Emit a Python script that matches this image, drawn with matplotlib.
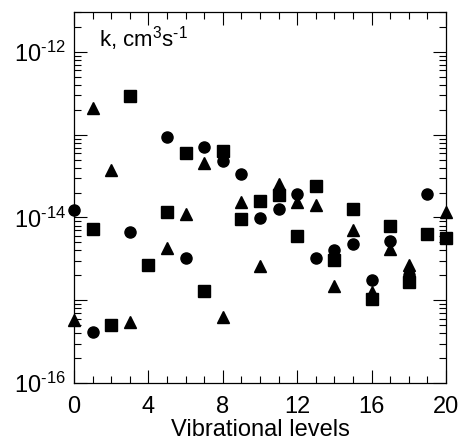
import numpy as np
import matplotlib
matplotlib.use("Agg")
import matplotlib.pyplot as plt
from matplotlib.ticker import FixedLocator, FuncFormatter, MultipleLocator, LogLocator, NullFormatter

plt.rcParams['font.family'] = ['Liberation Sans', 'DejaVu Sans']
plt.rcParams['mathtext.fontset'] = 'custom'
plt.rcParams['mathtext.rm'] = 'Liberation Sans'
plt.rcParams['mathtext.it'] = 'Liberation Sans:italic'
plt.rcParams['mathtext.default'] = 'regular'
plt.rcParams['axes.unicode_minus'] = False

# circles
circ_x = [0, 1, 3, 5, 6, 7, 8, 9, 10, 11, 12, 13, 14, 15, 16, 17, 18, 19]
circ_y = [1.24e-14, 4.1e-16, 6.6e-15, 9.5e-14, 3.2e-15, 7.2e-14, 4.8e-14, 3.4e-14,
          9.8e-15, 1.26e-14, 1.94e-14, 3.2e-15, 4.1e-15, 4.8e-15, 1.78e-15, 5.2e-15,
          2.0e-15, 1.9e-14]

# squares
sq_x = [1, 2, 3, 4, 5, 6, 7, 8, 9, 10, 11, 12, 13, 14, 15, 16, 17, 18, 19, 20]
sq_y = [7.3e-15, 5.05e-16, 2.93e-13, 2.7e-15, 1.16e-14, 6.0e-14, 1.3e-15, 6.4e-14,
        9.5e-15, 1.58e-14, 1.86e-14, 5.9e-15, 2.4e-14, 3.1e-15, 1.27e-14, 1.03e-15,
        7.9e-15, 1.66e-15, 6.4e-15, 5.6e-15]

# triangles
tri_x = [0, 1, 2, 3, 5, 6, 7, 8, 9, 10, 11, 12, 13, 14, 15, 16, 17, 18, 20]
tri_y = [5.8e-16, 2.08e-13, 3.8e-14, 5.4e-16, 4.3e-15, 1.09e-14, 4.6e-14, 6.3e-16,
         1.52e-14, 2.6e-15, 2.57e-14, 1.52e-14, 1.40e-14, 1.5e-15, 7.1e-15, 1.26e-15,
         4.2e-15, 2.7e-15, 1.16e-14]

fig = plt.figure(figsize=(4.63, 4.43), dpi=100)
ax = fig.add_axes([0.1598, 0.1354, 0.8035, 0.8364])

ax.plot(circ_x, circ_y, 'o', color='black', ms=8, mec='black', ls='none', clip_on=False)
ax.plot(sq_x, sq_y, 's', color='black', ms=8.5, mec='black', ls='none', clip_on=False)
ax.plot(tri_x, tri_y, '^', color='black', ms=9, mec='black', ls='none', clip_on=False)

ax.set_yscale('log')
ax.set_xlim(0, 20)
ax.set_ylim(1e-16, 3e-12)

ax.xaxis.set_major_locator(MultipleLocator(4))
ax.xaxis.set_minor_locator(MultipleLocator(1))

ax.yaxis.set_major_locator(FixedLocator([1e-16, 1e-15, 1e-14, 1e-13, 1e-12]))
ax.yaxis.set_minor_locator(LogLocator(base=10, subs=np.arange(2, 10), numticks=20))
ax.yaxis.set_minor_formatter(NullFormatter())


def ylab(v, pos):
    e = int(round(np.log10(v)))
    if e % 2 == 0:
        return '$10^{\u2010%d}$' % abs(e)
    return ''


ax.yaxis.set_major_formatter(FuncFormatter(ylab))

ax.tick_params(which='both', direction='in', top=True, right=True, labelsize=17, width=0.8)
ax.tick_params(which='major', length=9.5)
ax.tick_params(which='minor', length=5)
ax.tick_params(axis='y', pad=6)
ax.tick_params(axis='x', pad=9)

for s in ax.spines.values():
    s.set_linewidth(0.9)

ax.set_xlabel('Vibrational levels', fontsize=17, labelpad=1)
ax.text(0.068, 0.968, 'k, cm$^{3}$s$^{\u20101}$', transform=ax.transAxes, fontsize=16,
        ha='left', va='top')

fig.savefig('out.png', dpi=100)
